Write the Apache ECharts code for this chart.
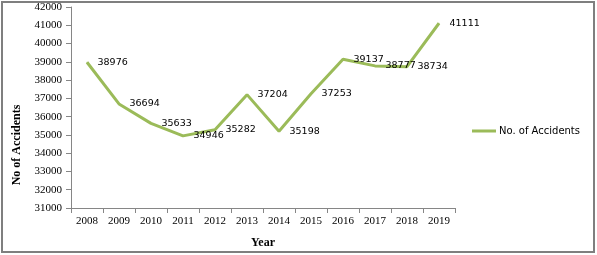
<!DOCTYPE html>
<html><head><meta charset="utf-8">
<script src="https://cdn.jsdelivr.net/npm/echarts@6/dist/echarts.min.js"></script>
<style>html,body{margin:0;padding:0;background:#fff}#c{width:597px;height:255px}</style>
</head><body><div id="c"></div>
<script>
const years = ['2008','2009','2010','2011','2012','2013','2014','2015','2016','2017','2018','2019'];
const accidents = [38976,36694,35633,34946,35282,37204,35198,37253,39137,38777,38734,41111];
const seriesName = 'No. of Accidents';
const yMin = 31000, yMax = 42000, yStep = 1000;

const chart = echarts.init(document.getElementById('c'), null, {renderer:'canvas'});
chart.setOption({
  animation:false,
  backgroundColor:'#fff',
  grid:{left:71,right:142,top:7,bottom:47},
  legend:{
    data:[seriesName], right:12, top:121, orient:'vertical',
    itemWidth:24, itemHeight:10, itemGap:4,
    icon:'path://M0,4L24,4L24,7L0,7Z',
    textStyle:{fontFamily:'DejaVu Sans',fontSize:10,color:'#000',padding:[0,0,0,-2]}
  },
  xAxis:{
    type:'category', data:years, boundaryGap:true,
    name:'Year', nameLocation:'middle', nameGap:29,
    nameTextStyle:{fontFamily:'Liberation Serif',fontWeight:'bold',fontSize:12,color:'#000'},
    axisLine:{lineStyle:{color:'#868686',width:1}},
    axisTick:{show:true,alignWithLabel:false,length:5,lineStyle:{color:'#868686'}},
    axisLabel:{fontFamily:'Liberation Serif',fontSize:11,color:'#000',margin:8}
  },
  yAxis:{
    type:'value', min:yMin, max:yMax, interval:yStep,
    axisLine:{show:true,lineStyle:{color:'#868686',width:1}},
    axisTick:{show:true,length:5,lineStyle:{color:'#868686'}},
    splitLine:{show:false},
    axisLabel:{fontFamily:'Liberation Serif',fontSize:11,color:'#000',margin:9,formatter:v=>String(v)}
  },
  graphic:[
    {type:'rect',shape:{x:2,y:2,width:592,height:250},style:{fill:null,stroke:'#7f7f7f',lineWidth:2},silent:true},
    {type:'text',x:17,y:145,rotation:Math.PI/2,
     style:{text:'No of Accidents',fontFamily:'Liberation Serif',fontWeight:'bold',fontSize:12,fill:'#000',align:'center',verticalAlign:'middle'}}
  ],
  series:[{
    name:seriesName, type:'line', data:accidents,
    symbol:'circle', symbolSize:1, showSymbol:true, smooth:false,
    lineStyle:{color:'#9BBB59',width:3},
    itemStyle:{color:'#9BBB59'},
    label:{show:true,position:'right',distance:10,fontFamily:'DejaVu Sans',fontSize:9.5,color:'#000',formatter:p=>String(p.value)}
  }]
});
</script></body></html>
